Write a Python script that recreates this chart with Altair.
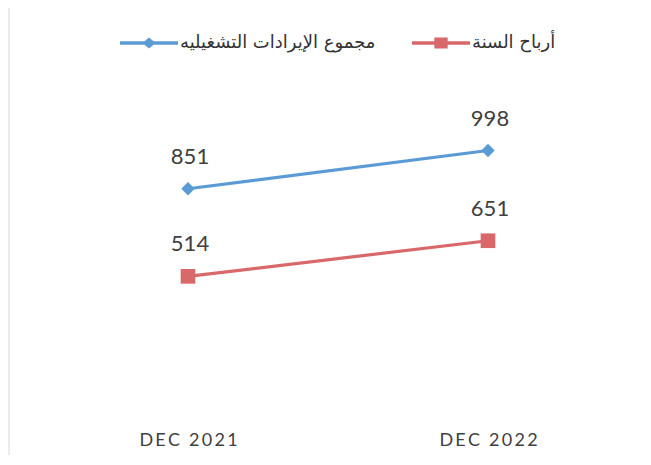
import altair as alt
import pandas as pd

periods = ["DEC 2021", "DEC 2022"]
series = ["مجموع الإيرادات التشغيليه", "أرباح السنة"]
revenue = [851, 998]
profit = [514, 651]
colors = ["#5b9bd5", "#d9686a"]

rows = []
for p, v in zip(periods, revenue):
    rows.append({"period": p, "series": series[0], "value": v})
for p, v in zip(periods, profit):
    rows.append({"period": p, "series": series[1], "value": v})
df = pd.DataFrame(rows)

# legend symbols: a line with a marker in the middle (custom SVG paths)
path_blue = "M-1,-0.06H1V0.06H-1Z M0,-0.19L0.23,0L0,0.19L-0.23,0Z"
path_red = "M-1,-0.06H1V0.06H-1Z M-0.23,-0.19H0.23V0.19H-0.23Z"

x = alt.X(
    "period:N", sort=periods, scale=alt.Scale(padding=0.5),
    axis=alt.Axis(title=None, domain=False, ticks=False, grid=False, labelAngle=0,
                  labelFont="Lato", labelFontSize=18, labelColor="#404040",
                  labelPadding=21,
                  labelExpr="join(split(datum.label, ''), '\u2009')"),
)
y = alt.Y("value:Q", scale=alt.Scale(domain=[0, 1200]), axis=None)
color = alt.Color("series:N", scale=alt.Scale(domain=series, range=colors), legend=None)

line = alt.Chart(df).mark_line(strokeWidth=3.2).encode(x=x, y=y, color=color)

pts = alt.Chart(df).mark_point(filled=True, opacity=1).encode(
    x=x, y=y, color=color,
    shape=alt.Shape("series:N", scale=alt.Scale(domain=series, range=["diamond", "square"]), legend=None),
    size=alt.Size("series:N", scale=alt.Scale(domain=series, range=[180, 215]), legend=None),
)

labels = alt.Chart(df).mark_text(font="Lato", fontSize=22, color="#404040", dy=-32, dx=2).encode(
    x=x, y=y, text="value:Q"
)

leg_props = dict(
    orient="none", legendX=82, legendY=-67, direction="horizontal", title=None,
    symbolSize=3364, symbolStrokeWidth=0, symbolOpacity=1,
    labelFont="DejaVu Sans", labelFontSize=18, labelColor="#333333",
    labelLimit=400, labelOffset=2, columnPadding=36, clipHeight=24, padding=0,
)
leg = alt.Chart(df).mark_point(filled=True, opacity=0).encode(
    x=x, y=y,
    color=alt.Color("series:N", scale=alt.Scale(domain=series, range=colors), legend=alt.Legend(**leg_props)),
    shape=alt.Shape("series:N", scale=alt.Scale(domain=series, range=[path_blue, path_red]), legend=alt.Legend(**leg_props)),
)

border = alt.Chart(pd.DataFrame({"a": [0]})).mark_rule(color="#ebebeb", strokeWidth=2).encode(
    x=alt.value(-29), y=alt.value(-90), y2=alt.value(357)
)

chart = (
    alt.layer(border, line, pts, labels, leg)
    .resolve_scale(shape="independent", color="independent")
    .properties(
        width=600, height=312,
        padding={"left": 30, "top": 90, "right": 5, "bottom": 45},
        autosize=alt.AutoSizeParams(type="none"),
    )
    .configure_view(stroke=None)
)

chart.save("out.html", embed_options={"renderer": "svg", "actions": False})
